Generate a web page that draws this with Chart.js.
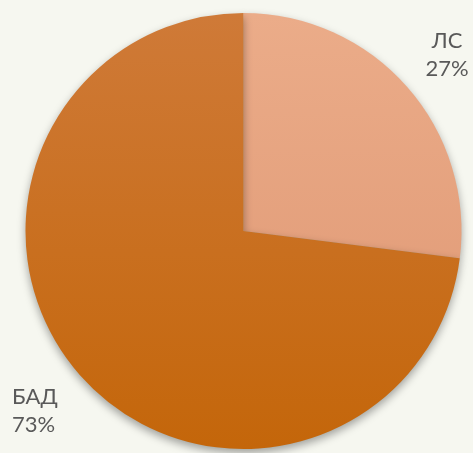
<!DOCTYPE html>
<html>
<head>
<meta charset="utf-8">
<script src="https://cdn.jsdelivr.net/npm/chart.js@4.4.1/dist/chart.umd.min.js"></script>
<style>
  html, body { margin: 0; padding: 0; background: #f6f7f0; }
  #wrap { width: 473px; height: 453px; }
</style>
</head>
<body>
<div id="wrap"><canvas id="pie"></canvas></div>
<script>
// data
const categories = ['ЛС', 'БАД'];
const shares = [27, 73];
const labelText = ['27%', '73%'];

// slice colours: top / bottom of the gradient
const topColors = ['#ebac89', '#cf7a38'];
const bottomColors = ['#de9672', '#c4660a'];

function sliceFill(context) {
  const chart = context.chart;
  const area = chart.chartArea;
  if (!area) return bottomColors[context.dataIndex];
  const g = chart.ctx.createLinearGradient(0, area.top, 0, area.bottom);
  g.addColorStop(0, topColors[context.dataIndex]);
  g.addColorStop(1, bottomColors[context.dataIndex]);
  return g;
}

// soft shadow under the pie
const shadowPlugin = {
  id: 'shadow',
  beforeDatasetsDraw(chart) {
    const ctx = chart.ctx;
    ctx.save();
    ctx.shadowColor = 'rgba(0,0,0,0.35)';
    ctx.shadowBlur = 8;
    ctx.shadowOffsetX = 0;
    ctx.shadowOffsetY = 4;
  },
  afterDatasetsDraw(chart) {
    chart.ctx.restore();
  },
};

// outside labels: name on one line, percent below
const labelPlugin = {
  id: 'outerLabels',
  afterDraw(chart) {
    const ctx = chart.ctx;
    ctx.save();
    ctx.fillStyle = '#595959';
    ctx.font = '22px "Lato", "DejaVu Sans", sans-serif';
    ctx.textBaseline = 'middle';
    // ЛС top right, centred; БАД bottom left, left aligned
    const spots = [
      { x: 447, y: 41, align: 'center' },
      { x: 12, y: 397, align: 'left' },
    ];
    categories.forEach((name, i) => {
      const s = spots[i];
      ctx.textAlign = s.align;
      ctx.fillText(name, s.x, s.y);
      ctx.fillText(labelText[i], s.x, s.y + 28);
    });
    ctx.restore();
  },
};

new Chart(document.getElementById('pie'), {
  type: 'pie',
  data: {
    labels: categories,
    datasets: [{
      data: shares,
      backgroundColor: sliceFill,
      borderWidth: 0,
    }],
  },
  options: {
    responsive: true,
    maintainAspectRatio: false,
    animation: false,
    events: [],
    layout: { padding: { left: 25, right: 11, top: 13, bottom: 4 } },
    plugins: {
      legend: { display: false },
      tooltip: { enabled: false },
    },
  },
  plugins: [shadowPlugin, labelPlugin],
});
</script>
</body>
</html>
